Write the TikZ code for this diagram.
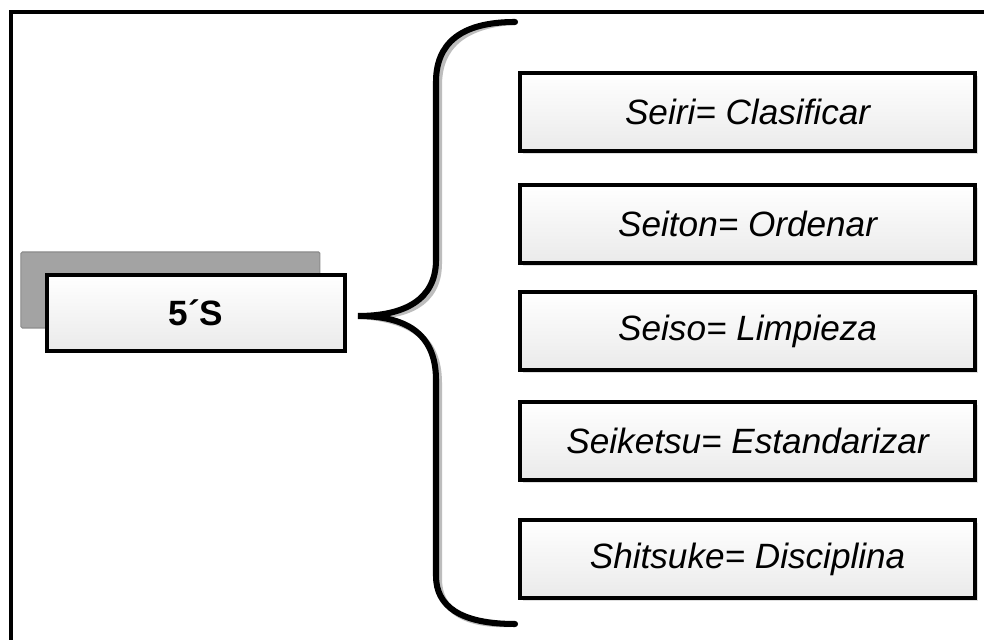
\documentclass[tikz,border=0pt]{standalone}
\usepackage{fontspec}
\setmainfont{Liberation Sans}
\usetikzlibrary{positioning,shadows,calc}
\definecolor{ink}{HTML}{000000}
\definecolor{paper}{HTML}{FFFFFF}
\definecolor{boxtop}{HTML}{FFFFFF}
\definecolor{boxbot}{HTML}{EAEAEA}
\definecolor{backfill}{HTML}{A3A3A3}
\definecolor{backline}{HTML}{8C8C8C}
\definecolor{halo}{HTML}{BDBDBD}

\begin{document}
\begin{tikzpicture}[
  sbox/.style={draw=ink,line width=2.4pt,top color=boxtop,bottom color=boxbot,
    minimum width=11.375cm,minimum height=1.95cm,inner sep=0pt,
    drop shadow={opacity=0.25,shadow xshift=2pt,shadow yshift=-2pt},
    font=\fontsize{25}{30}\selectfont\itshape},
  mainbox/.style={draw=ink,line width=3pt,top color=boxtop,bottom color=boxbot,
    minimum width=7.45cm,minimum height=1.9cm,inner sep=0pt,
    font=\fontsize{25}{30}\selectfont\bfseries},
  bracepath/.style={ink,line width=4.3pt,line cap=round}
]
\useasboundingbox (0,0) rectangle (24.6,16);
\fill[paper] (0,0) rectangle (24.6,16);
% outer frame
\draw[ink,line width=2.8pt] (0.275,-1) -- (0.275,15.7) -- (25,15.7);
% title block with grey card behind
\node[fill=backfill,draw=backline,line width=0.8pt,rounded corners=1pt,
  minimum width=7.475cm,minimum height=1.9cm] (fivesback) at (4.26,8.75) {};
\node[mainbox] (fives) at (4.9,8.175) {5´S};
% the five steps
\node[sbox] (seiri) at (18.69,13.2) {Seiri= Clasificar};
\node[sbox] (seiton) at (18.69,10.4) {Seiton= Ordenar};
\node[sbox] (seiso) at (18.69,7.725) {Seiso= Limpieza};
\node[sbox] (seiketsu) at (18.69,4.975) {Seiketsu= Estandarizar};
\node[sbox] (shitsuke) at (18.69,2.025) {Shitsuke= Disciplina};
% brace
\coordinate (tip) at (8.95,8.1);
\coordinate (btop) at (12.875,15.45);
\coordinate (bbot) at (12.875,0.4);
\draw[bracepath,halo,line width=4pt,shift={(0.08,-0.08)}] (btop) .. controls (11.5,15.45) and (10.9,14.9) .. (10.9,13.95)
  -- (10.9,9.5) .. controls (10.9,8.5) and (10.1,8.1) .. (tip)
  .. controls (10.1,8.1) and (10.9,7.7) .. (10.9,6.5)
  -- (10.9,1.6) .. controls (10.9,0.85) and (11.5,0.4) .. (bbot);
\draw[bracepath] (btop) .. controls (11.5,15.45) and (10.9,14.9) .. (10.9,13.95)
  -- (10.9,9.5) .. controls (10.9,8.5) and (10.1,8.1) .. (tip)
  .. controls (10.1,8.1) and (10.9,7.7) .. (10.9,6.5)
  -- (10.9,1.6) .. controls (10.9,0.85) and (11.5,0.4) .. (bbot);
\end{tikzpicture}
\end{document}
